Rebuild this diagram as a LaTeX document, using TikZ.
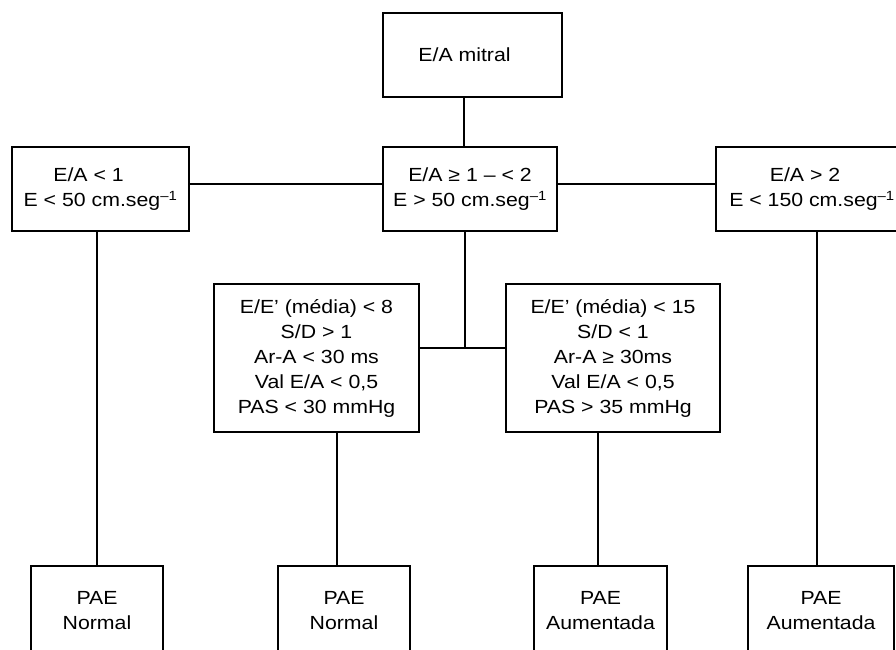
\documentclass[tikz,border=0pt]{standalone}
\usepackage{fontspec}
\setmainfont{Liberation Sans}[FakeStretch=1.12]
\begin{document}
\begin{tikzpicture}[x=1pt,y=-1pt,
  box/.style={draw, line width=1.6pt, rectangle, align=center, inner sep=0pt,
    font=\fontsize{19}{25}\selectfont},
  conn/.style={line width=1.6pt}]
\fill[white] (0,0) rectangle (896,649);
\clip (0,0) rectangle (896,649);
% top
\node[box, minimum width=179pt, minimum height=84pt] (top) at (472.5,55) {\hspace*{-16pt}E/A mitral};
% first row
\node[box, minimum width=177pt, minimum height=84pt] (lb) at (100.5,189)
  {\hspace*{-24pt}E/A < 1\\ E < 50 cm.seg\textsuperscript{–1}};
\node[box, minimum width=174pt, minimum height=84pt] (mid) at (470,189)
  {E/A ≥ 1 – < 2\\ E > 50 cm.seg\textsuperscript{–1}};
\node[box, minimum width=192pt, minimum height=84pt] (rb) at (812,189)
  {\hspace*{-14pt}E/A > 2\\ E < 150 cm.seg\textsuperscript{–1}};
% second row
\node[box, minimum width=205pt, minimum height=148pt] (ml) at (316.5,358)
  {E/E’ (média) < 8\\ S/D > 1\\ Ar-A < 30 ms\\ Val E/A < 0,5\\ PAS < 30 mmHg};
\node[box, minimum width=214pt, minimum height=148pt] (mr) at (613,358)
  {E/E’ (média) < 15\\ S/D < 1\\ Ar-A ≥ 30ms\\ Val E/A < 0,5\\ PAS > 35 mmHg};
% bottom row
\node[box, minimum width=132pt, minimum height=89pt] (b1) at (97,610.5) {PAE\\ Normal};
\node[box, minimum width=132pt, minimum height=89pt] (b2) at (344,610.5) {PAE\\ Normal};
\node[box, minimum width=133pt, minimum height=89pt] (b3) at (600.5,610.5) {PAE\\ Aumentada};
\node[box, minimum width=146pt, minimum height=89pt] (b4) at (821,610.5) {PAE\\ Aumentada};
% connectors
\coordinate (j) at (465,348);
\draw[conn] ([xshift=-6pt]mid.north) -- ([xshift=-6pt]mid.north |- top.south);
\draw[conn] ([yshift=5pt]lb.east) -- ([yshift=5pt]mid.west);
\draw[conn] ([yshift=5pt]mid.east) -- ([yshift=5pt]rb.west);
\draw[conn] ([xshift=-5pt]mid.south) -- (j);
\draw[conn] (ml.east |- j) -- (mr.west |- j);
\draw[conn] (lb.south -| b1.north) -- (b1.north);
\draw[conn] (ml.south -| 337,0) -- (b2.north -| 337,0);
\draw[conn] (mr.south -| 598,0) -- (b3.north -| 598,0);
\draw[conn] (rb.south -| 817,0) -- (b4.north -| 817,0);
\end{tikzpicture}
\end{document}
